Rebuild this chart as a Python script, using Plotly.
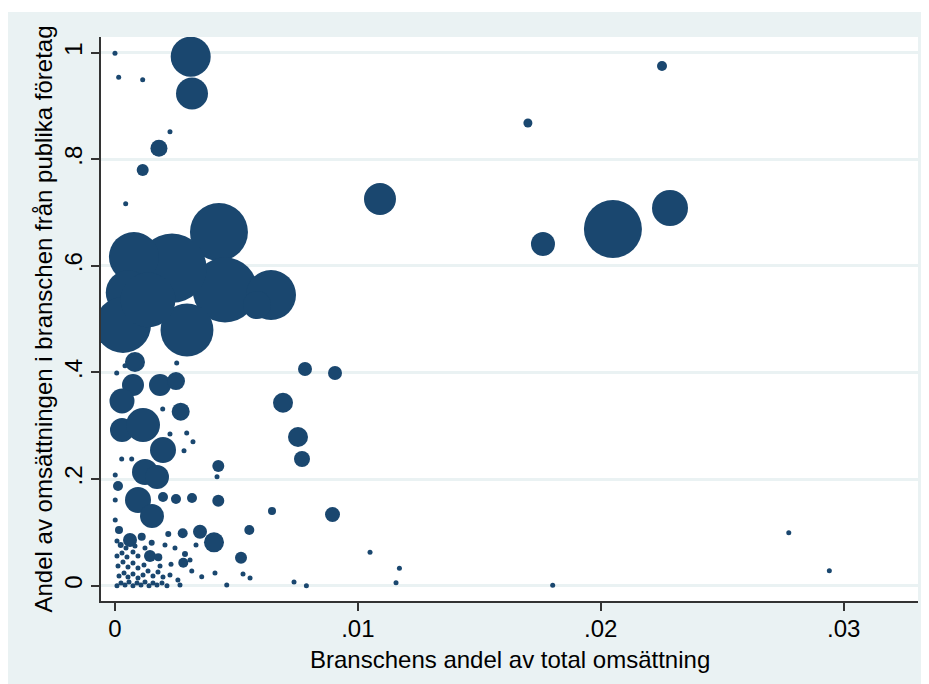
import plotly.graph_objects as go

# Branschens andel av total omsättning (x)
bransch_andel = [
    0.003117, 0.00317, 0.02252, 0.0170, 0.00181, 0.00114, 0.0, 0.000152, 0.00114, 0.002264,
    0.00044, 0.01091, 0.0205, 0.02285, 0.01762,
    0.00428, 0.00453, 0.002347, 0.00078, 0.00054, 0.00033, 0.002964, 0.006423, 0.005846, 0.001359,
    0.000823, 0.000741, 0.001853, 0.002511, 0.000288, 0.000288, 0.001153, 0.002705, 0.001976,
    0.001235, 0.001729, 0.000124, 0.000947, 0.001523, 0.007823, 0.009058, 0.006917, 0.007534,
    0.007699, 0.004253, 0.004253, 0.002511, 0.001976, 0.00317, 0.006464, 0.008955, 0.00553,
    0.005188, 0.004076, 0.0035, 0.002787, 0.002812, 0.001441, 0.000618, 0.000165, 0.001783,
    0.0011, 0.000276, 0.000688, 0.002952, 0.003211, 0.002841, 0.002264, 0.001964, 0.0042,
    0.00007, 0.000412, 0.00254,
    0.02774, 0.02941, 0.0105, 0.01171, 0.01157, 0.01802, 0.00788, 0.00737, 0.00527, 0.00556,
    0.0046, 0.004117, 0.00357, 0.00316, 0.002264, 0.00259, 0.002676, 0.002882, 0.001511,
    0.002194, 0.000235, 0.002306,
    0.000082, 0.000247, 0.000412, 0.000576, 0.000741, 0.000906, 0.00107, 0.001235, 0.0014,
    0.001564, 0.001729, 0.001935, 0.002141, 0.000165, 0.000371, 0.000535, 0.000741, 0.000947,
    0.001153, 0.001359, 0.001564, 0.00177, 0.001976, 0.000124, 0.000329, 0.000535, 0.000741,
    0.000947, 0.001194, 0.001853, 0.000082, 0.000288, 0.000494, 0.000741, 0.000947, 0.000453,
    0.000823, 0.001235, 0.000082, 0.00001, 0.00001, 0.00001, 0.002058, 0.00247, 0.003088, 0.003335,
]

# Andel av omsättningen i branschen från publika företag (y)
publik_andel = [
    0.9925, 0.9235, 0.975, 0.868, 0.8206, 0.780, 0.9989, 0.9538, 0.9493, 0.8518,
    0.7167, 0.7255, 0.6692, 0.7086, 0.6411,
    0.6636, 0.5548, 0.5957, 0.6167, 0.55, 0.4891, 0.4797, 0.5454, 0.5266, 0.536,
    0.4197, 0.3765, 0.3765, 0.384, 0.3465, 0.2921, 0.3015, 0.3265, 0.2546,
    0.2133, 0.2039, 0.1871, 0.1608, 0.1308, 0.4066, 0.399, 0.3433, 0.279,
    0.2377, 0.2246, 0.1595, 0.1627, 0.1664, 0.1645, 0.1402, 0.1336, 0.1045,
    0.0525, 0.0814, 0.1013, 0.0983, 0.0432, 0.0557, 0.0857, 0.1045, 0.0533,
    0.0919, 0.2377, 0.2377, 0.2865, 0.2702, 0.2533, 0.2846, 0.3315, 0.2045,
    0.399, 0.4128, 0.4178,
    0.0994, 0.0281, 0.0627, 0.0326, 0.0056, 0.0008, 0.0, 0.0069, 0.022, 0.0144,
    0.0013, 0.0238, 0.0169, 0.0276, 0.0201, 0.0107, 0.0013, 0.0595, 0.0807,
    0.097, 0.0764, 0.0402,
    0.0, 0.0051, 0.0013, 0.0069, 0.0, 0.0051, 0.0013, 0.0069, 0.0,
    0.0051, 0.0013, 0.0051, 0.0, 0.0182, 0.0238, 0.0163, 0.022, 0.0144,
    0.0201, 0.0276, 0.0182, 0.0257, 0.0163, 0.037, 0.0445, 0.0351, 0.0426,
    0.0332, 0.0388, 0.037, 0.0557, 0.0614, 0.0538, 0.0632, 0.0557, 0.0707,
    0.0745, 0.0707, 0.0839, 0.1233, 0.1608, 0.2077, 0.0764, 0.0707, 0.0482, 0.0764,
]

# Vikt (branschens omsättning, relativ skala)
vikt = [
    16, 10.24, 1, 0.81, 2.89, 1.44, 0.09, 0.09, 0.09, 0.09,
    0.09, 10.24, 33.64, 12.96, 5.76,
    33.64, 42, 48, 25, 20, 31.36, 28, 25, 7.84, 30,
    4, 4.84, 4.84, 3.24, 6.25, 5.76, 11.56, 3.24, 6.76,
    6.76, 5.76, 1, 6.76, 5.76, 1.96, 1.96, 4, 4,
    2.56, 1.44, 1.44, 1, 1, 1, 0.64, 2.25, 1,
    1.44, 4, 1.96, 1, 1, 1.44, 1.96, 0.64, 0.64,
    0.64, 0.16, 0.25, 0.25, 0.25, 0.16, 0.16, 0.16, 0.16,
    0.09, 0.16, 0.09,
    0.16, 0.16, 0.16, 0.16, 0.09, 0.09, 0.09, 0.09, 0.16, 0.16,
    0.09, 0.16, 0.09, 0.09, 0.16, 0.09, 0.09, 0.36, 0.36,
    0.36, 0.36, 0.16,
    0.16, 0.25, 0.16, 0.25, 0.16, 0.16, 0.25, 0.16, 0.16,
    0.16, 0.16, 0.09, 0.09, 0.25, 0.16, 0.25, 0.16, 0.16,
    0.16, 0.16, 0.09, 0.09, 0.09, 0.16, 0.16, 0.16, 0.16,
    0.09, 0.09, 0.09, 0.16, 0.09, 0.16, 0.09, 0.09, 0.16,
    0.09, 0.09, 0.09, 0.09, 0.09, 0.09, 0.09, 0.09, 0.09, 0.09,
]

x_ticks = [0, 0.01, 0.02, 0.03]
x_ticklabels = ["0", ".01", ".02", ".03"]
y_ticks = [0, 0.2, 0.4, 0.6, 0.8, 1]
y_ticklabels = ["0", ".2", ".4", ".6", ".8", "1"]
x_title = "Branschens andel av total omsättning"
y_title = "Andel av omsättningen i branschen från publika företag"

BG = "#eaf2f3"
NAVY = "#1a476f"
FONT = "Liberation Sans, Arial, sans-serif"

fig = go.Figure()
fig.add_trace(go.Scatter(
    x=bransch_andel, y=publik_andel, mode="markers",
    marker=dict(size=vikt, sizemode="area", sizeref=0.02, sizemin=2.5,
                color=NAVY, opacity=1, line=dict(width=0)),
    showlegend=False, hoverinfo="x+y",
))

axis_common = dict(
    showline=True, linecolor="#333333", linewidth=1.5,
    ticks="outside", ticklen=8, tickwidth=1.5, tickcolor="#333333",
    zeroline=False, tickfont=dict(family=FONT, size=24, color="black"),
    title_font=dict(family=FONT, size=24, color="black"),
)

fig.update_layout(
    width=929, height=684,
    margin=dict(l=93, r=19, t=29, b=91),
    paper_bgcolor=BG, plot_bgcolor="white",
    font=dict(family=FONT, size=24, color="black"),
    xaxis=dict(
        range=[-0.000576, 0.03306], tickvals=x_ticks, ticktext=x_ticklabels,
        showgrid=False,
        **axis_common,
    ),
    yaxis=dict(
        range=[-0.0287, 1.0294], tickvals=y_ticks, ticktext=y_ticklabels,
        tickangle=-90, showgrid=True, gridcolor=BG, gridwidth=2.5,
        title=dict(text=y_title, standoff=0),
        **axis_common,
    ),
    annotations=[
        dict(text=x_title, xref="paper", yref="paper", x=0.5, y=-0.104,
             xanchor="center", yanchor="middle", showarrow=False,
             font=dict(family=FONT, size=24, color="black")),
    ],
    shapes=[
        dict(type="rect", xref="paper", yref="paper", x0=-0.2, x1=1.1, y0=1.0443, y1=1.06,
             fillcolor="white", line=dict(width=0), layer="below"),
    ],
)

try:
    fig.update_xaxes(ticklabelstandoff=-3)
except Exception:
    pass

fig.write_html("out.html")
